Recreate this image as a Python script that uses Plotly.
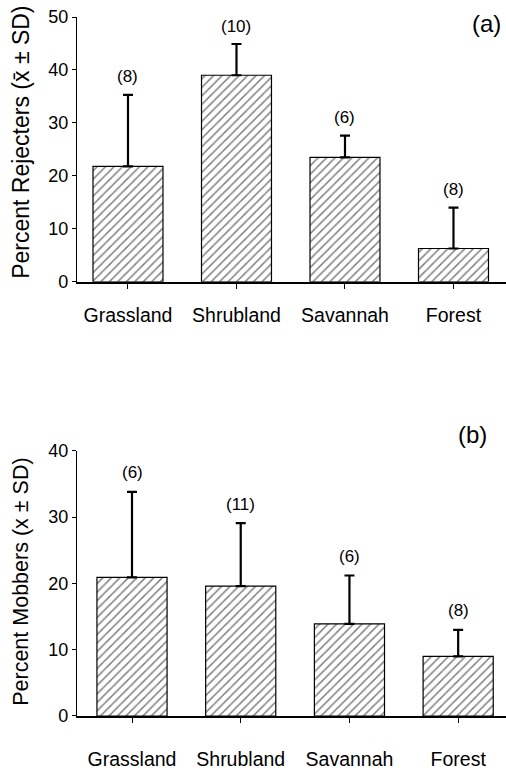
import plotly.graph_objects as go

categories = ["Grassland", "Shrubland", "Savannah", "Forest"]
rejecters_mean = [21.8, 39.0, 23.5, 6.3]
rejecters_sd = [13.5, 5.9, 4.1, 7.7]
rejecters_n = [8, 10, 6, 8]
mobbers_mean = [20.9, 19.6, 13.9, 9.0]
mobbers_sd = [12.9, 9.5, 7.3, 4.0]
mobbers_n = [6, 11, 6, 8]

FONT = "Liberation Sans, Arial, Helvetica, sans-serif"

fig = go.Figure()

bar_style = dict(
    width=0.645,
    marker=dict(
        color="white",
        line=dict(color="black", width=1.2),
        pattern=dict(shape="/", fgcolor="black", bgcolor="white", size=6, solidity=0.25),
    ),
    showlegend=False,
)

fig.add_trace(go.Bar(
    x=categories, y=rejecters_mean, xaxis="x", yaxis="y",
    error_y=dict(type="data", array=rejecters_sd, arrayminus=[0] * 4, symmetric=False,
                 color="black", thickness=2.2, width=5),
    **bar_style,
))
fig.add_trace(go.Bar(
    x=categories, y=mobbers_mean, xaxis="x2", yaxis="y2",
    error_y=dict(type="data", array=mobbers_sd, arrayminus=[0] * 4, symmetric=False,
                 color="black", thickness=2.2, width=5),
    **bar_style,
))

annotations = []
for c, m, s, n in zip(categories, rejecters_mean, rejecters_sd, rejecters_n):
    annotations.append(dict(x=c, y=m + s, xref="x", yref="y", text=f"({n})", showarrow=False,
                            yshift=18, font=dict(size=17, color="black", family=FONT)))
for c, m, s, n in zip(categories, mobbers_mean, mobbers_sd, mobbers_n):
    annotations.append(dict(x=c, y=m + s, xref="x2", yref="y2", text=f"({n})", showarrow=False,
                            yshift=19, font=dict(size=17, color="black", family=FONT)))

annotations += [
    dict(x=0.955, y=0.990, xref="paper", yref="paper", text="(a)", showarrow=False,
         xanchor="center", yanchor="middle", font=dict(size=24, color="black", family=FONT)),
    dict(x=0.923, y=0.4024, xref="paper", yref="paper", text="(b)", showarrow=False,
         xanchor="center", yanchor="middle", font=dict(size=24, color="black", family=FONT)),
    dict(x=-0.1305, y=0.820, xref="paper", yref="paper", text="Percent Rejecters (x\u0304 \u00b1 SD)",
         showarrow=False, textangle=-90, xanchor="center", yanchor="middle",
         font=dict(size=23, color="black", family=FONT)),
    dict(x=-0.1305, y=0.192, xref="paper", yref="paper", text="Percent Mobbers (x \u00b1 SD)",
         showarrow=False, textangle=-90, xanchor="center", yanchor="middle",
         font=dict(size=21.5, color="black", family=FONT)),
]

xaxis_common = dict(
    showline=True, linecolor="black", linewidth=1.5, ticks="outside", ticklen=5,
    tickcolor="black", showgrid=False, zeroline=False,
    tickfont=dict(size=19.5, color="black", family=FONT),
)
yaxis_common = dict(
    showline=True, linecolor="black", linewidth=1.2, ticks="outside", ticklen=4,
    tickcolor="black", showgrid=False, zeroline=False, dtick=10,
    tickfont=dict(size=18, color="black", family=FONT),
)

fig.update_layout(
    width=506, height=770,
    margin=dict(l=77, r=0, t=17, b=51),
    paper_bgcolor="white", plot_bgcolor="white",
    font=dict(family=FONT, color="black"),
    bargap=0.35,
    xaxis=dict(anchor="y", range=[-0.47, 3.484], ticklabelstandoff=10, **xaxis_common),
    yaxis=dict(anchor="x", domain=[0.6211, 1.0], range=[0, 50], **yaxis_common),
    xaxis2=dict(anchor="y2", range=[-0.506, 3.44], ticklabelstandoff=20, **xaxis_common),
    yaxis2=dict(anchor="x2", domain=[0.0, 0.3793], range=[0, 40], **yaxis_common),
    annotations=annotations,
)

fig.write_html(
    "out.html",
    config={"displayModeBar": False},
    post_script="document.body.style.margin='0';document.body.style.overflow='hidden';",
)
